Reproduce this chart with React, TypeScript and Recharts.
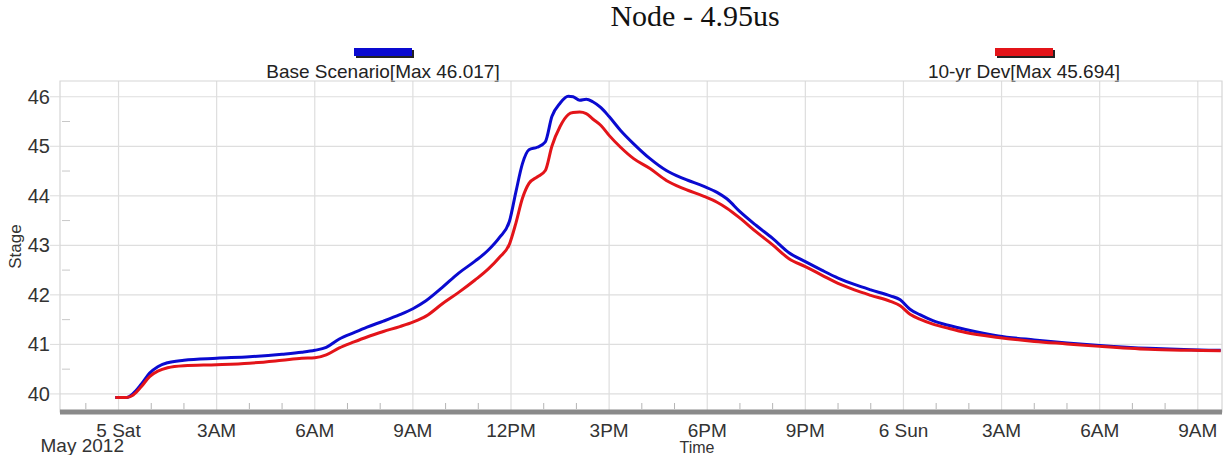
import React from 'react';
import { LineChart, Line, XAxis, YAxis, CartesianGrid, ReferenceArea } from 'recharts';

const hours = [-0.1, 0.25, 0.45, 0.7, 0.95, 1.2, 1.5, 2.0, 3.0, 4.0, 5.0, 5.6, 6.0, 6.35, 6.75, 7.2, 7.6, 8.1, 8.6, 9.0, 9.4, 9.9, 10.4, 10.9, 11.3, 11.65, 11.95, 12.15, 12.35, 12.55, 12.8, 13.05, 13.25, 13.5, 13.75, 13.9, 14.1, 14.3, 14.5, 14.75, 15.0, 15.35, 15.75, 16.25, 16.75, 17.3, 17.9, 18.3, 18.6, 19.0, 19.5, 20.0, 20.5, 21.0, 21.5, 22.0, 22.5, 23.0, 23.6, 23.9, 24.2, 24.5, 24.9, 25.4, 25.9, 26.9, 28.0, 29.0, 30.0, 31.5, 32.8, 33.7];

const baseStage = [39.93, 39.93, 40.01, 40.2, 40.42, 40.55, 40.63, 40.68, 40.72, 40.75, 40.8, 40.84, 40.88, 40.94, 41.11, 41.24, 41.35, 41.47, 41.6, 41.72, 41.88, 42.15, 42.44, 42.68, 42.9, 43.16, 43.48, 44.08, 44.65, 44.93, 44.98, 45.09, 45.6, 45.87, 46.01, 46.0, 45.93, 45.95, 45.9, 45.78, 45.6, 45.32, 45.05, 44.75, 44.51, 44.34, 44.19, 44.07, 43.94, 43.68, 43.4, 43.14, 42.85, 42.67, 42.5, 42.34, 42.21, 42.1, 41.98, 41.9, 41.71, 41.6, 41.48, 41.38, 41.3, 41.17, 41.09, 41.03, 40.98, 40.92, 40.89, 40.88];

const devStage = [39.93, 39.93, 39.98, 40.15, 40.35, 40.46, 40.53, 40.57, 40.59, 40.62, 40.68, 40.72, 40.73, 40.79, 40.93, 41.05, 41.15, 41.26, 41.36, 41.45, 41.57, 41.82, 42.05, 42.3, 42.52, 42.76, 43.02, 43.45, 43.95, 44.25, 44.38, 44.51, 45.0, 45.4, 45.64, 45.68, 45.69, 45.66, 45.55, 45.42, 45.22, 44.98, 44.75, 44.55, 44.31, 44.14, 43.99, 43.87, 43.75, 43.55, 43.27, 43.01, 42.73, 42.57, 42.4, 42.23, 42.1, 41.99, 41.87, 41.78, 41.61, 41.51, 41.41, 41.32, 41.24, 41.14, 41.06, 41.01, 40.96, 40.9, 40.88, 40.87];

const xMajorTicks = [0, 3, 6, 9, 12, 15, 18, 21, 24, 27, 30, 33];
const xTickLabels = ['5 Sat', '3AM', '6AM', '9AM', '12PM', '3PM', '6PM', '9PM', '6 Sun', '3AM', '6AM', '9AM'];
const xAllTicks = [-1, 0, 1, 2, 3, 4, 5, 6, 7, 8, 9, 10, 11, 12, 13, 14, 15, 16, 17, 18, 19, 20, 21, 22, 23, 24, 25, 26, 27, 28, 29, 30, 31, 32, 33];
const yMajorTicks = [40, 41, 42, 43, 44, 45, 46];
const yAllTicks = [40, 40.5, 41, 41.5, 42, 42.5, 43, 43.5, 44, 44.5, 45, 45.5, 46];
const xDomain = [-1.79, 33.74];
const yDomain = [39.635, 46.318];

const series = [
  { key: 'base', name: 'Base Scenario[Max 46.017]', color: '#0a0ad0' },
  { key: 'dev', name: '10-yr Dev[Max 45.694]', color: '#e31419' },
];

const data = hours.map((h, i) => ({ h, base: baseStage[i], dev: devStage[i] }));

const FONT = '"Liberation Sans", Arial, sans-serif';

const XTick = (props: any) => {
  const { x, y, payload } = props;
  const h = payload.value;
  const idx = xMajorTicks.indexOf(h);
  if (idx < 0) {
    return <line x1={x} x2={x} y1={y - 3} y2={y - 9} stroke="#b5b5b5" strokeWidth={1} />;
  }
  return (
    <g>
      <text x={x} y={y + 25} textAnchor="middle" fontSize={19} fill="#333" fontFamily={FONT}>
        {xTickLabels[idx]}
      </text>
      {idx === 0 && (
        <text x={x - 78} y={y + 40} textAnchor="start" fontSize={19} fill="#333" fontFamily={FONT}>
          May 2012
        </text>
      )}
    </g>
  );
};

const YTick = (props: any) => {
  const { x, y, payload } = props;
  const v = payload.value;
  if (yMajorTicks.indexOf(v) < 0) {
    return <line x1={x + 2} x2={x + 10} y1={y} y2={y} stroke="#c8c8c8" strokeWidth={1} />;
  }
  return (
    <g>
      <line x1={x - 10} x2={x} y1={y} y2={y} stroke="#dcdcdc" strokeWidth={1} />
      <text x={x - 10} y={y + 7} textAnchor="end" fontSize={20} fill="#333" fontFamily={FONT}>
        {v}
      </text>
    </g>
  );
};

const legendCenters = [383, 1024];

export default function App() {
  return (
    <div style={{ position: 'absolute', left: 0, top: 0, width: 1225, height: 455, background: '#fff', fontFamily: FONT }}>
      <div style={{ position: 'absolute', left: 395, top: -1, width: 600, textAlign: 'center', fontFamily: '"Liberation Serif", "Times New Roman", serif', fontSize: 30, color: '#111', whiteSpace: 'nowrap' }}>
        Node - 4.95us
      </div>
      {series.map((s, i) => (
        <div key={s.key} style={{ position: 'absolute', left: legendCenters[i] - 150, top: 48, width: 300, textAlign: 'center' }}>
          <div style={{ width: 58, height: 8, margin: '0 auto', background: s.color, boxShadow: '2px 2px 0 #222' }} />
          <div style={{ fontSize: 19, lineHeight: '22px', color: '#222', marginTop: 5 }}>{s.name}</div>
        </div>
      ))}
      <LineChart
        width={1225}
        height={455}
        data={data}
        margin={{ top: 81, right: 3, bottom: 0, left: 0 }}
        style={{ position: 'absolute', left: 0, top: 0 }}
      >
        <CartesianGrid stroke="#dedede" strokeWidth={1.2} verticalValues={xMajorTicks} horizontalValues={yMajorTicks} />
        <ReferenceArea x1={xDomain[0]} x2={xDomain[1]} y1={yDomain[0]} y2={yDomain[1]} fill="none" stroke="#d6d6d6" strokeWidth={1.2} />
        <XAxis
          dataKey="h"
          type="number"
          domain={xDomain}
          ticks={xAllTicks}
          interval={0}
          height={43}
          tickSize={0}
          tickMargin={0}
          tickLine={false}
          axisLine={{ stroke: '#8a8a8a', strokeWidth: 5 }}
          tick={<XTick />}
          allowDataOverflow
          label={{
            content: (p: any) => {
              const vb = p.viewBox;
              return (
                <text x={vb.x + vb.width / 2 + 56} y={vb.y + 41} textAnchor="middle" fontSize={16} fill="#333" fontFamily={FONT}>
                  Time
                </text>
              );
            },
          }}
        />
        <YAxis
          type="number"
          domain={yDomain}
          ticks={yAllTicks}
          interval={0}
          width={60}
          tickSize={0}
          tickMargin={0}
          tickLine={false}
          axisLine={false}
          tick={<YTick />}
          allowDataOverflow
          label={{
            content: (p: any) => {
              const vb = p.viewBox;
              const cx = vb.x + 15;
              const cy = vb.y + vb.height / 2;
              return (
                <text x={cx} y={cy} transform={`rotate(-90 ${cx} ${cy})`} textAnchor="middle" dominantBaseline="central" fontSize={17} fill="#333" fontFamily={FONT}>
                  Stage
                </text>
              );
            },
          }}
        />
        {series.map((s) => (
          <Line key={s.key} type="monotone" dataKey={s.key} name={s.name} stroke={s.color} strokeWidth={3} dot={false} isAnimationActive={false} />
        ))}
      </LineChart>
    </div>
  );
}
